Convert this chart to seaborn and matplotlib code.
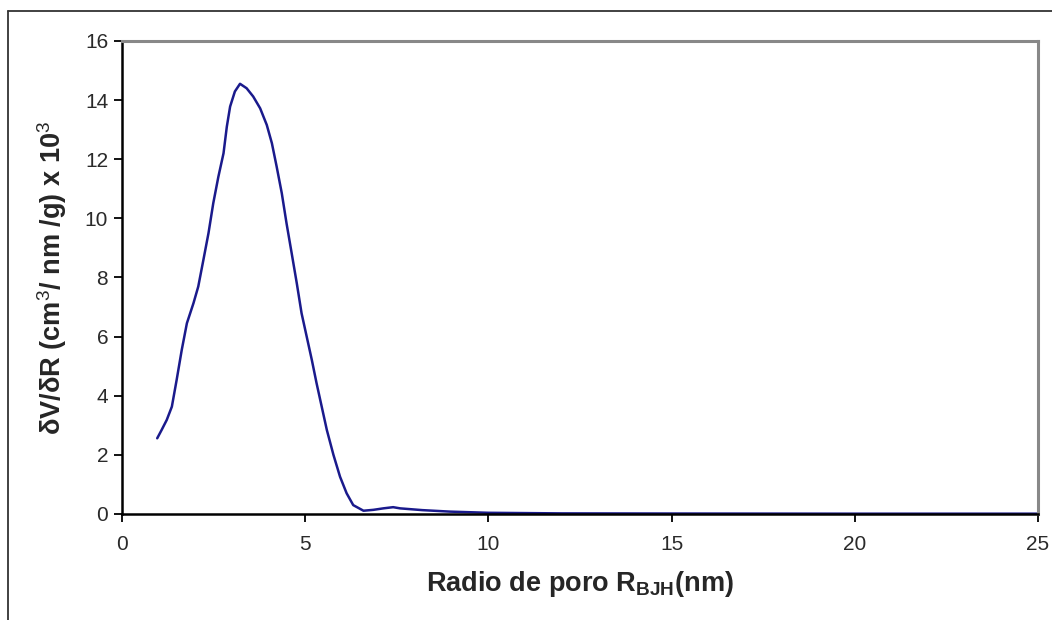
import matplotlib
matplotlib.use("Agg")
import matplotlib.pyplot as plt
import numpy as np
import pandas as pd
import seaborn as sns
from matplotlib.lines import Line2D

# pore size distribution
radius_nm = [0.96, 1.08, 1.22, 1.36, 1.49, 1.63, 1.77, 1.95, 2.08, 2.22,
             2.36, 2.49, 2.63, 2.77, 2.86, 2.95, 3.08, 3.22, 3.40, 3.58,
             3.77, 3.95, 4.09, 4.22, 4.36, 4.49, 4.63, 4.77, 4.90, 5.04,
             5.18, 5.31, 5.45, 5.59, 5.77, 5.95, 6.13, 6.31, 6.59, 6.86,
             7.13, 7.40, 7.59, 8.20, 8.95, 10.0, 12.0, 15.0, 20.0, 25.0]
dvdr = [2.56, 2.84, 3.18, 3.63, 4.53, 5.55, 6.45, 7.13, 7.69, 8.59,
        9.50, 10.51, 11.41, 12.20, 13.10, 13.78, 14.29, 14.55, 14.40, 14.12,
        13.72, 13.16, 12.54, 11.75, 10.85, 9.83, 8.82, 7.80, 6.79, 6.00,
        5.21, 4.42, 3.63, 2.84, 2.00, 1.26, 0.70, 0.30, 0.11, 0.14,
        0.19, 0.23, 0.19, 0.13, 0.08, 0.04, 0.02, 0.015, 0.01, 0.01]
x_ticks = [0, 5, 10, 15, 20, 25]
y_ticks = [0, 2, 4, 6, 8, 10, 12, 14, 16]

df = pd.DataFrame({"radius": radius_nm, "dvdr": dvdr})

sns.set_style("white")
plt.rcParams["font.family"] = ["Liberation Sans", "DejaVu Sans"]
plt.rcParams["mathtext.fontset"] = "custom"
plt.rcParams["mathtext.rm"] = "Liberation Sans"
plt.rcParams["mathtext.bf"] = "Liberation Sans:bold"
plt.rcParams["mathtext.it"] = "Liberation Sans:italic"

fig = plt.figure(figsize=(10.52, 6.2), dpi=100)
ax = fig.add_axes([0.116, 0.171, 0.8707, 0.763])

sns.lineplot(data=df, x="radius", y="dvdr", ax=ax, color="#1a1a8c",
             linewidth=1.8, sort=False)

ax.set_xlim(0, 25)
ax.set_ylim(0, 16)
ax.set_xticks(x_ticks)
ax.set_yticks(y_ticks)
ax.tick_params(axis="both", direction="out", length=6, width=1.3,
               color="black", labelsize=15, labelcolor="#2a2a2a",
               left=True, bottom=True)
ax.tick_params(axis="x", pad=9)
ax.tick_params(axis="y", pad=4)

for side in ["left", "bottom"]:
    ax.spines[side].set_color("black")
    ax.spines[side].set_linewidth(1.8)
for side in ["top", "right"]:
    ax.spines[side].set_visible(True)
    ax.spines[side].set_color("#888888")
    ax.spines[side].set_linewidth(2.2)

ax.set_xlabel(r"Radio de poro R$_{\mathbf{BJH}}$(nm)", fontsize=19.5,
              fontweight="bold", labelpad=11)
ax.set_ylabel(r"δV/δR (cm$^{\mathrm{3}}$/ nm /g) x 10$^{\mathrm{3}}$",
              fontsize=19.5, fontweight="bold", labelpad=11)

# outer frame (left and top edges visible)
fig.add_artist(Line2D([8 / 1052, 8 / 1052], [0, 1 - 11 / 620],
                      transform=fig.transFigure, color="#333333", linewidth=1.3))
fig.add_artist(Line2D([8 / 1052, 1], [1 - 11 / 620, 1 - 11 / 620],
                      transform=fig.transFigure, color="#333333", linewidth=1.3))

fig.savefig("out.png", dpi=100)
